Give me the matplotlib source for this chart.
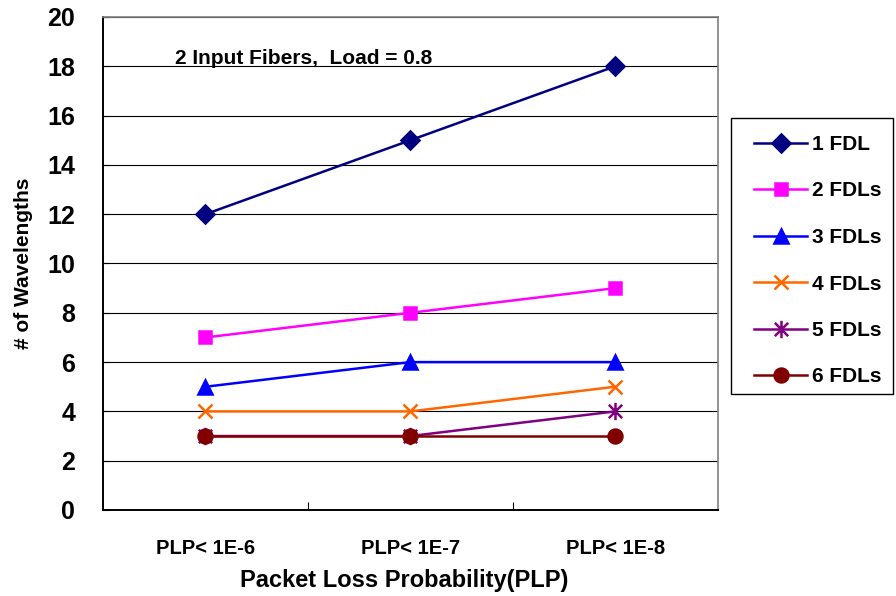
from matplotlib import pyplot as plt
from matplotlib.path import Path
from matplotlib.patches import Rectangle
import numpy as np

plt.rcParams['font.family'] = ['Liberation Sans', 'DejaVu Sans']
plt.rcParams['font.weight'] = 'bold'

categories = ['PLP< 1E-6', 'PLP< 1E-7', 'PLP< 1E-8']
series_names = ['1 FDL', '2 FDLs', '3 FDLs', '4 FDLs', '5 FDLs', '6 FDLs']
fdl1 = [12, 15, 18]
fdl2 = [7, 8, 9]
fdl3 = [5, 6, 6]
fdl4 = [4, 4, 5]
fdl5 = [3, 3, 4]
fdl6 = [3, 3, 3]

# excel style star: x with a vertical bar
star = Path([(-1, -1), (1, 1), (-1, 1), (1, -1), (0, -1.3), (0, 1.3)],
            [Path.MOVETO, Path.LINETO, Path.MOVETO, Path.LINETO, Path.MOVETO, Path.LINETO])

styles = [
    ('#000080', 'D', 9),
    ('#FF00FF', 's', 9),
    ('#0000FF', '^', 10),
    ('#FF6600', 'x', 10),
    ('#800080', star, 12.5),
    ('#800000', 'o', 10),
]

fig = plt.figure(figsize=(8.96, 5.96), dpi=100)
ax = fig.add_axes([0.115, 0.1443, 0.686, 0.8272])

x = np.arange(len(categories))
for vals, name, (col, mk, ms) in zip([fdl1, fdl2, fdl3, fdl4, fdl5, fdl6], series_names, styles):
    ax.plot(x, vals, color=col, lw=1.8, marker=mk, markersize=ms,
            markeredgewidth=1.8, markerfacecolor=col, markeredgecolor=col,
            label=name, clip_on=False)

ax.set_xlim(-0.5, 2.5)
ax.set_ylim(0, 20)
ax.set_yticks(np.arange(0, 21, 2))
ax.yaxis.grid(True, color='black', lw=0.8)
ax.set_axisbelow(True)
ax.set_xticks(x)
ax.set_xticklabels(categories, fontsize=14.5, fontweight='bold')
ax.set_xticks([0.5, 1.5], minor=True)
ax.tick_params(axis='x', which='major', length=0, pad=21)
ax.tick_params(axis='x', which='minor', direction='in', length=6, width=0.8)
ax.tick_params(axis='y', direction='in', length=4, width=0.8, labelsize=18, pad=20)
for lab in ax.get_yticklabels():
    lab.set_fontweight('bold')

for s in ['top', 'right']:
    ax.spines[s].set_color('#808080')
    ax.spines[s].set_linewidth(1.2)
ax.spines['left'].set_linewidth(1.4)
ax.spines['bottom'].set_linewidth(1.4)

ax.set_xlabel('Packet Loss Probability(PLP)', fontsize=17, fontweight='bold')
ax.xaxis.set_label_coords(0.49, -0.12)
ax.set_ylabel('# of Wavelengths', fontsize=15, fontweight='bold', labelpad=10)

ax.text(0.117, 0.905, '2 Input Fibers,  Load = 0.8', transform=ax.transAxes,
        fontsize=15, fontweight='bold')

# legend box drawn by hand, entries placed inside it
fig.add_artist(Rectangle((731 / 896, 1 - 394 / 596), 162 / 896, 276 / 596,
                         transform=fig.transFigure, facecolor='white',
                         edgecolor='black', lw=1.0, zorder=-1))
leg = ax.legend(loc='upper left', bbox_to_anchor=(754 / 896, 1 - 135 / 596),
                bbox_transform=fig.transFigure, prop={'size': 15, 'weight': 'bold'},
                frameon=False, handlelength=2.55, handletextpad=0.25,
                labelspacing=1.32, borderpad=0, borderaxespad=0)

fig.savefig('out.png', dpi=100)
